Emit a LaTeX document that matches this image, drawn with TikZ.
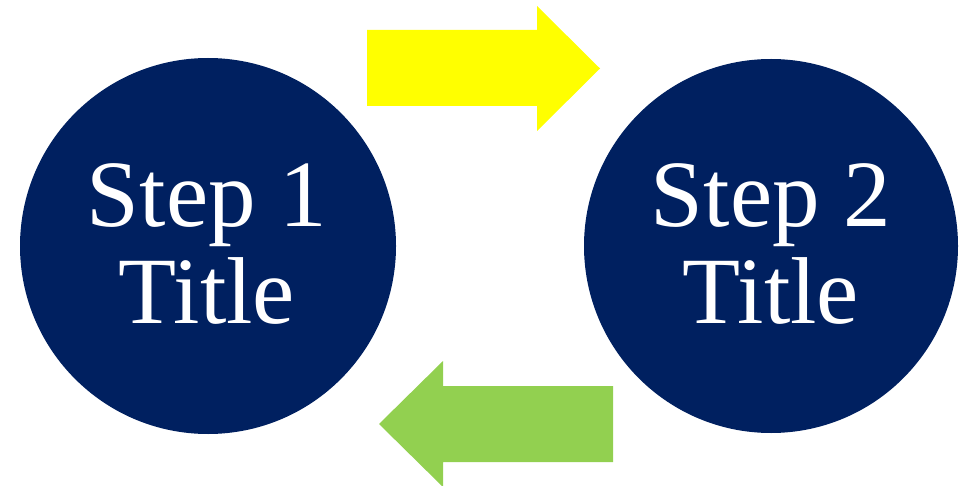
\documentclass[tikz,border=0pt]{standalone}
\usepackage{fontspec}
\setmainfont{Liberation Serif}
\definecolor{navy}{HTML}{002060}
\definecolor{arrowyellow}{HTML}{FFFF00}
\definecolor{arrowgreen}{HTML}{92D050}
\begin{document}
\begin{tikzpicture}[x=1pt,y=-1pt,
  stepcircle/.style={circle, fill=navy, inner sep=0pt, text=white,
    font=\fontsize{95}{97}\selectfont, align=center}]
\useasboundingbox (0,0) rectangle (960,486);
\node[stepcircle, minimum size=376pt] (c1) at (208,246) {};
\node[stepcircle, minimum size=374pt] (c2) at (771,246) {};
\node[stepcircle, fill=none] (t1) at (207,244) {Step 1\\Title};
\node[stepcircle, fill=none] (t2) at (771,244) {Step 2\\Title};
\fill[arrowyellow] (367,30) -- (537,30) -- (537,6) -- (600,68.5) -- (537,131) -- (537,106) -- (367,106) -- cycle;
\fill[arrowgreen] (613,386) -- (443,386) -- (443,361) -- (379,424) -- (443,487) -- (443,462) -- (613,462) -- cycle;
\end{tikzpicture}
\end{document}
